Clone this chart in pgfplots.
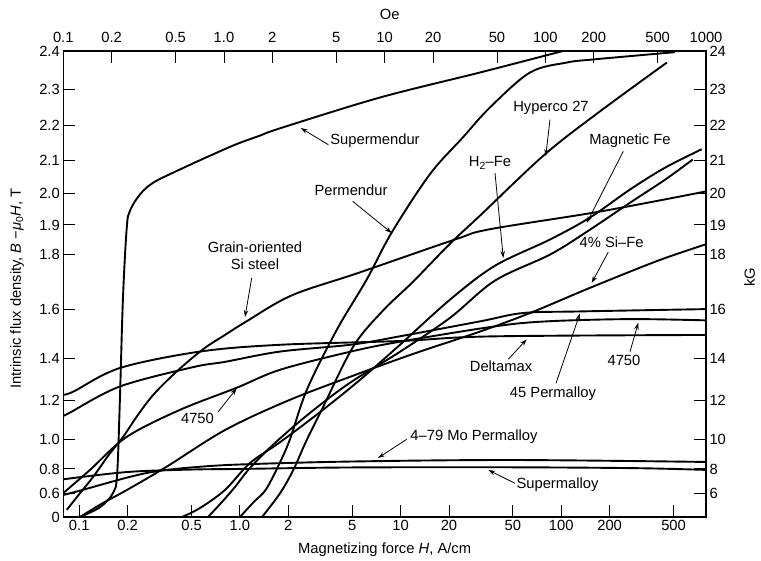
\documentclass[border=0pt]{standalone}
\usepackage{fontspec}
\setmainfont{Liberation Sans}
\usepackage{pgfplots}
\pgfplotsset{compat=1.18}
\usetikzlibrary{arrows.meta}
\newcommand\fs{\fontsize{14.8}{17.6}\selectfont}
\pgfplotsset{
 y coord trafo/.code={\pgfmathparse{ifthenelse((#1)>=1.2,80.8*(#1)*(#1),ifthenelse((#1)>=1.0,77.7+((#1)-1.0)*193,ifthenelse((#1)>=0.8,48+((#1)-0.8)*148.5,ifthenelse((#1)>=0.6,23.7+((#1)-0.6)*121.5,39.5*(#1)))))}},
 y coord inv trafo/.code={\pgfmathparse{ifthenelse((#1)>=116.35,sqrt(abs(#1)/80.8),ifthenelse((#1)>=77.7,1.0+((#1)-77.7)/193,ifthenelse((#1)>=48,0.8+((#1)-48)/148.5,ifthenelse((#1)>=23.7,0.6+((#1)-23.7)/121.5,(#1)/39.5))))}},
 curve/.style={black, line width=1.9bp, smooth, tension=0.55, no markers},
}
\tikzset{ann/.style={-{Stealth[length=7bp,width=4.5bp]}, line width=0.8bp}}
\begin{document}
\begin{tikzpicture}
\begin{axis}[width=642.7bp, height=466bp, scale only axis,
 xmode=log, ymin=0, ymax=2.4, tick align=inside, major tick length=12bp,
 xminorticks=false, yminorticks=false,
 tick style={black, line width=0.9bp}, axis line style={line width=1.3bp},
 tick label style={font=\fs}, label style={font=\fs},
 xmin=0.07958, xmax=795.8,
 xtick={0.1,0.2,0.5,1,2,5,10,20,50,100,200,500},
 xticklabels={0.1,0.2,0.5,1.0,2,5,10,20,50,100,200,500},
 ytick={0,0.6,0.8,1.0,1.2,1.4,1.6,1.8,1.9,2.0,2.1,2.2,2.3,2.4},
 yticklabels={0,0.6,0.8,1.0,1.2,1.4,1.6,1.8,1.9,2.0,2.1,2.2,2.3,2.4},
 xtick pos=left, ytick pos=left,
 xlabel={Magnetizing force \textit{H}, A/cm},
 ylabel={Intrinsic flux density, \textit{B} −\textit{μ}\textsubscript{0}\textit{H}, T},
 xlabel style={at={(axis description cs:0.5,-0.0708)}, anchor=center},
 ylabel style={at={(axis description cs:-0.072,0.49)}, anchor=center},
]
\coordinate (SW) at (rel axis cs:0,0);
% Supermendur
\addplot[curve] coordinates {(0.101,0) (0.135,0.25) (0.162,0.6) (0.172,0.75) (0.179,1.2) (0.187,1.64) (0.1975,1.89) (0.207,1.946) (0.239,1.997) (0.289,2.033) (0.404,2.068) (0.65,2.113) (0.955,2.147) (1.33,2.171) (1.78,2.192) (7.44,2.277) (31.2,2.344) (102.5,2.4)};
% Grain-oriented Si steel
\addplot[curve] coordinates {(0.0836,0.18) (0.101,0.6) (0.1224,0.737) (0.1555,0.906) (0.188,1.013) (0.228,1.117) (0.289,1.229) (0.404,1.341) (0.59,1.44) (0.807,1.5) (1.08,1.552) (2.1,1.655) (5.46,1.737) (21.8,1.852) (36,1.886) (174,1.943) (795,2.006)};
% 4750
\addplot[curve] coordinates {(0.0796,0.602) (0.1167,0.792) (0.1975,1.012) (0.424,1.152) (0.955,1.264) (1.778,1.349) (4.84,1.429) (9.91,1.472) (38.6,1.535) (81,1.555) (268,1.564) (795,1.559)};
% 45 Permalloy
\addplot[curve] coordinates {(0.0796,1.12) (0.0877,1.138) (0.179,1.27) (0.511,1.361) (0.81,1.385) (1.78,1.43) (5,1.46) (10,1.495) (31.2,1.555) (58,1.588) (131,1.594) (795,1.603)};
% Deltamax
\addplot[curve] coordinates {(0.0796,1.23) (0.092,1.245) (0.179,1.357) (0.565,1.43) (1.78,1.459) (10,1.475) (36,1.494) (795,1.5)};
% 4-79 Mo Permalloy
\addplot[curve] coordinates {(0.0796,0.557) (0.1,0.62) (0.2,0.73) (0.3,0.78) (0.5,0.81) (1,0.83) (5,0.85) (50,0.86) (795,0.847)};
% Supermalloy
\addplot[curve] coordinates {(0.0796,0.715) (0.2,0.775) (0.5,0.795) (1,0.80) (5,0.81) (50,0.811) (300,0.805) (795,0.792)};
% 4% Si-Fe
\addplot[curve] coordinates {(0.101,0) (0.14,0.35) (0.198,0.627) (0.35,0.815) (0.81,1.048) (2,1.2) (5,1.32) (12,1.42) (31.2,1.514) (64,1.588) (151,1.683) (400,1.78) (795,1.836)};
% H2-Fe
\addplot[curve] coordinates {(0.436,0) (0.565,0.228) (0.807,0.627) (1.156,0.84) (1.778,0.98) (3.15,1.14) (5.59,1.302) (9.91,1.459) (20.3,1.639) (38.6,1.762) (85.1,1.852) (151,1.924) (268,2.012) (443,2.078) (748,2.132)};
% Magnetic Fe
\addplot[curve] coordinates {(0.633,0) (0.774,0.38) (0.932,0.652) (1.156,0.807) (1.654,0.975) (2.73,1.136) (4.84,1.288) (9.91,1.429) (20.3,1.569) (38.6,1.709) (85.1,1.801) (144.5,1.878) (268,1.971) (443,2.042) (658,2.102)};
% Hyperco 27
\addplot[curve] coordinates {(1.373,0) (1.777,0.6) (2.15,0.792) (2.606,0.995) (3.304,1.169) (5.08,1.452) (7.76,1.597) (11.94,1.705) (20.3,1.838) (31.2,1.93) (79,2.117) (174,2.239) (454,2.37)};
% Permendur
\addplot[curve] coordinates {(1.0,0) (1.22,0.38) (1.45,0.63) (1.75,0.83) (2.05,1.0) (2.61,1.254) (4.0,1.52) (6.15,1.713) (8.8,1.875) (15.2,2.058) (24.4,2.166) (36,2.25) (63.9,2.344) (108,2.37) (157,2.378) (510,2.397)};
\end{axis}
\begin{axis}[width=642.7bp, height=466bp, scale only axis,
 xmode=log, ymin=0, ymax=2.4, tick align=inside, major tick length=12bp,
 xminorticks=false, yminorticks=false,
 tick style={black, line width=0.9bp}, axis line style={line width=1.3bp},
 tick label style={font=\fs}, label style={font=\fs},
 xticklabel style={yshift=5bp},
 xmin=0.1, xmax=1000,
 xtick={0.1,0.2,0.5,1,2,5,10,20,50,100,200,500,1000},
 xticklabels={0.1,0.2,0.5,1.0,2,5,10,20,50,100,200,500,1000},
 ytick={0.6,0.8,1.0,1.2,1.4,1.6,1.8,1.9,2.0,2.1,2.2,2.3,2.4},
 yticklabels={6,8,10,12,14,16,18,19,20,21,22,23,24},
 xtick pos=right, xticklabel pos=right, ytick pos=right, yticklabel pos=right,
 xlabel={Oe}, ylabel={kG},
 xlabel style={at={(axis description cs:0.508,1.078)}, anchor=center},
 ylabel style={at={(axis description cs:1.068,0.515)}, anchor=center},
]
\end{axis}
\begin{scope}[shift={([shift={(-63.3bp,517bp)}]SW)}, x=1bp, y=-1bp, font=\fs]
 \node at (375,141) {Supermendur};
 \draw[ann] (328.3,144.7) -- (300.7,128);
 \node at (351,190.5) {Permendur};
 \draw[ann] (352.7,201.3) -- (391.7,233);
 \node[align=center, inner sep=0pt] at (255,256) {Grain-oriented\\[-1pt]Si steel};
 \draw[ann] (251.7,278) -- (245,317);
 \node at (551,108) {Hyperco 27};
 \draw[ann] (550,119.7) -- (545.7,156.3);
 \node at (490,163) {H\textsubscript{2}–Fe};
 \draw[ann] (495,173) -- (503.3,258);
 \node at (630,140.5) {Magnetic Fe};
 \draw[ann] (623.3,151.3) -- (586.7,223);
 \node at (611.7,242) {4\% Si–Fe};
 \draw[ann] (608.3,252) -- (591.7,283);
 \node at (501,366) {Deltamax};
 \draw[ann] (508.3,359.3) -- (526.7,339.3);
 \node at (553,394) {45 Permalloy};
 \draw[ann] (556,383.3) -- (580,313.3);
 \node at (624,360.5) {4750};
 \draw[ann] (630,351.7) -- (638.3,322.7);
 \node at (197.5,418) {4750};
 \draw[ann] (218.3,411.7) -- (236.7,388.3);
 \node at (474,436.7) {4–79 Mo Permalloy};
 \draw[ann] (406.7,439.3) -- (378,458);
 \node at (557.5,485) {Supermalloy};
 \draw[ann] (515,483.3) -- (488.3,470);
\end{scope}
\pgfresetboundingbox
\path[use as bounding box] ([shift={(-63.3bp,-44bp)}]SW) rectangle ([shift={(697.7bp,517bp)}]SW);
\end{tikzpicture}
\end{document}
